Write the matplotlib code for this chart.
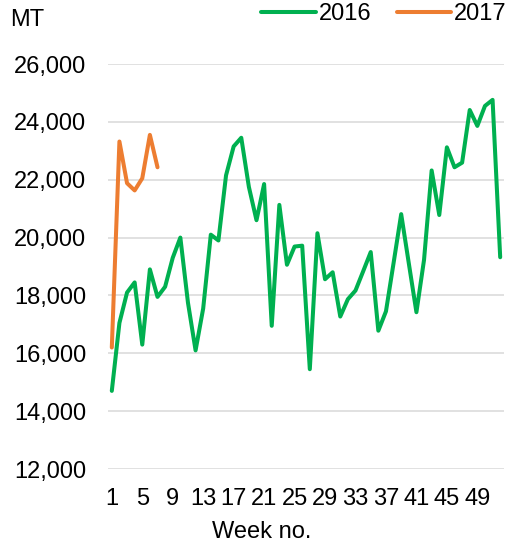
"""Weekly volumes (MT), 2016 vs 2017."""

import matplotlib
matplotlib.use("Agg")
import matplotlib.pyplot as plt
from matplotlib.ticker import FuncFormatter

plt.rcParams["font.family"] = ["Liberation Sans", "DejaVu Sans"]

weeks_2016 = list(range(1, 53))
mt_2016 = [
    14700, 17050, 18100, 18450, 16300, 18900, 17950, 18300, 19300, 20000,
    17750, 16100, 17550, 20100, 19900, 22150, 23150, 23450, 21750, 20600,
    21850, 16950, 21130, 19060, 19690, 19720, 15450, 20150, 18560, 18800,
    17270, 17870, 18170, 18830, 19500, 16780, 17450, 19120, 20810, 19110,
    17420, 19230, 22320, 20780, 23120, 22430, 22590, 24410, 23860, 24550,
    24760, 19320,
]
weeks_2017 = list(range(1, 8))
mt_2017 = [16200, 23320, 21880, 21630, 22050, 23550, 22430]

x_ticks = list(range(1, 52, 4))
y_ticks = list(range(12000, 26001, 2000))

GREEN = "#00B050"
ORANGE = "#ED7D31"
GRID = "#D9D9D9"
FS = 17

fig = plt.figure(figsize=(5.08, 5.47), dpi=100)
ax = fig.add_axes([108 / 508, 1 - 469 / 547, 396 / 508, 405 / 547])

ax.plot(weeks_2016, mt_2016, color=GREEN, lw=2.9, solid_capstyle="round",
        solid_joinstyle="round", label="2016", zorder=3)
ax.plot(weeks_2017, mt_2017, color=ORANGE, lw=2.9, solid_capstyle="round",
        solid_joinstyle="round", label="2017", zorder=4)

ax.set_xlim(0.5, 52.5)
ax.set_ylim(12000, 26000)
ax.set_xticks(x_ticks)
ax.set_yticks(y_ticks)
ax.yaxis.set_major_formatter(FuncFormatter(lambda v, _: f"{int(v):,}"))
ax.tick_params(axis="both", length=0, labelsize=FS)
ax.tick_params(axis="y", pad=15.5)
ax.tick_params(axis="x", pad=13.5)

ax.grid(axis="y", color=GRID, lw=1.1, zorder=0)
ax.set_axisbelow(True)
for side in ("top", "right", "left", "bottom"):
    ax.spines[side].set_visible(False)

ax.set_xlabel("Week no.", fontsize=FS, va="center")
ax.xaxis.set_label_coords(0.389, -0.155)

fig.text(10 / 508, 1 - 20 / 547, "MT", fontsize=FS, va="center", ha="left")

fig.legend(loc="center right", bbox_to_anchor=(0.998, 1 - 14 / 547), ncol=2,
           frameon=False, fontsize=FS, handlelength=2.3, handletextpad=0.15,
           columnspacing=1.05, borderpad=0, borderaxespad=0)

fig.savefig("out.png", dpi=100)
